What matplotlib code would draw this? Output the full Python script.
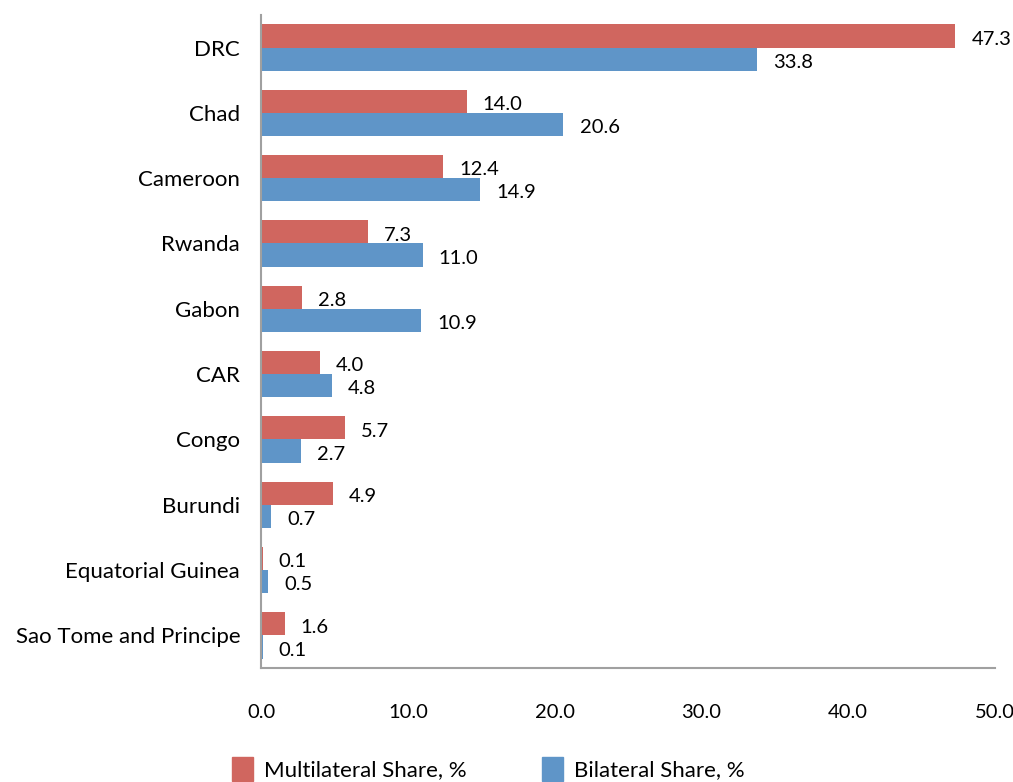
import matplotlib
matplotlib.use("Agg")
import matplotlib.pyplot as plt
import numpy as np
from matplotlib.patches import Patch

countries = ["DRC", "Chad", "Cameroon", "Rwanda", "Gabon", "CAR", "Congo",
             "Burundi", "Equatorial Guinea", "Sao Tome and Principe"]
multilateral = [47.3, 14.0, 12.4, 7.3, 2.8, 4.0, 5.7, 4.9, 0.1, 1.6]
bilateral = [33.8, 20.6, 14.9, 11.0, 10.9, 4.8, 2.7, 0.7, 0.5, 0.1]
xticks = [0, 10, 20, 30, 40, 50]

red = "#D0665F"
blue = "#5F95C8"
fs = 16
nfs = 14.5

plt.rcParams['font.family'] = ['Lato', 'DejaVu Sans']

fig = plt.figure(figsize=(10.13, 7.82), dpi=100)
ax = fig.add_axes([0.2577, 0.1458, 0.7245, 0.8352])

y = np.arange(len(countries))
h = 0.355
ax.barh(y - h / 2, multilateral, height=h, color=red)
ax.barh(y + h / 2, bilateral, height=h, color=blue)

# value labels
for i in range(len(countries)):
    ax.text(multilateral[i] + 1.1, y[i] - h / 2 + 0.05, "%.1f" % multilateral[i],
            va="center", ha="left", fontsize=nfs)
    ax.text(bilateral[i] + 1.1, y[i] + h / 2 + 0.05, "%.1f" % bilateral[i],
            va="center", ha="left", fontsize=nfs)

ax.set_ylim(len(countries) - 0.5, -0.5)
ax.set_xlim(0, 50)
ax.set_yticks(y)
ax.set_yticklabels(countries, fontsize=fs)
ax.set_xticks(xticks)
ax.set_xticklabels(["%.1f" % t for t in xticks], fontsize=nfs)
ax.tick_params(axis="both", length=0)
ax.tick_params(axis="x", pad=26)
ax.tick_params(axis="y", pad=15)

for s in ["top", "right"]:
    ax.spines[s].set_visible(False)
for s in ["left", "bottom"]:
    ax.spines[s].set_color("#A0A0A0")
    ax.spines[s].set_linewidth(1.5)

handles = [Patch(color=red, label="Multilateral Share, %"),
           Patch(color=blue, label="Bilateral Share, %")]
fig.legend(handles=handles, loc="lower left", bbox_to_anchor=(0.209, -0.024),
           ncol=2, frameon=False, fontsize=fs, handlelength=0.95, handleheight=1.3,
           columnspacing=3.4, handletextpad=0.5)

fig.savefig("out.png", dpi=100)
